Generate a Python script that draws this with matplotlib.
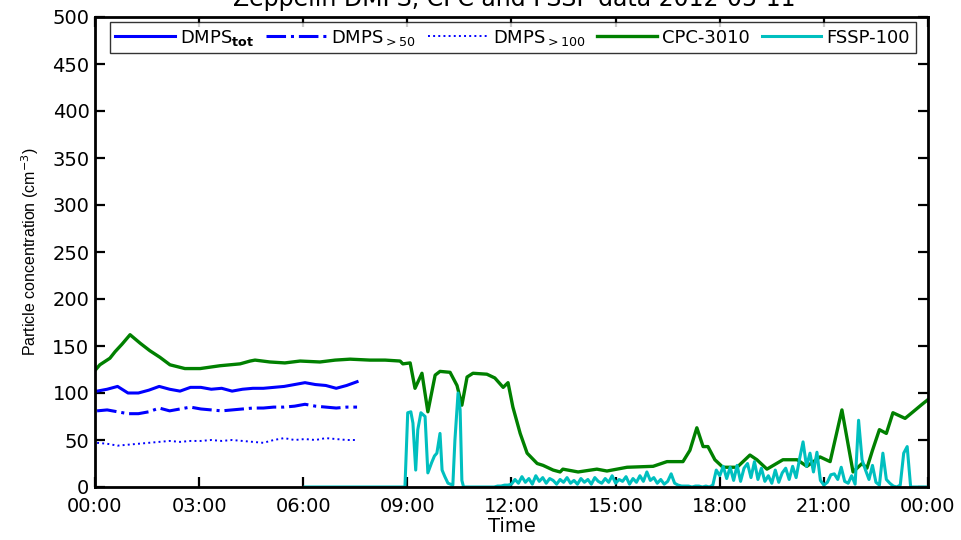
import numpy as np
import matplotlib
matplotlib.use("Agg")
import matplotlib.pyplot as plt

# ---------------- data ----------------
cpc_t = [0.00, 0.14, 0.43, 0.58, 0.78, 1.01, 1.30, 1.58, 1.87, 2.16, 2.59, 3.03, 3.60,
         4.18, 4.47, 4.61, 5.04, 5.47, 5.91, 6.48, 6.92, 7.35, 7.92, 8.36, 8.79, 8.87,
         9.08, 9.22, 9.42, 9.59, 9.80, 9.94, 10.23, 10.43, 10.57, 10.72, 10.89, 11.29,
         11.52, 11.76, 11.90, 12.04, 12.25, 12.45, 12.74, 12.91, 13.20, 13.40, 13.48,
         13.92, 14.46, 14.75, 15.33, 16.08, 16.48, 16.94, 17.14, 17.34, 17.52, 17.66,
         17.86, 18.09, 18.50, 18.87, 19.07, 19.36, 19.82, 20.23, 20.51, 20.89, 21.18,
         21.52, 21.84, 22.10, 22.24, 22.40, 22.60, 22.80, 22.99, 23.34, 23.57, 23.83, 24.00]
cpc_v = [124, 130, 137, 144, 152, 162, 153, 145, 138, 130, 126, 126, 129,
         131, 134, 135, 133, 132, 134, 133, 135, 136, 135, 135, 134, 131,
         132, 105, 121, 80, 119, 123, 122, 108, 87, 117, 121, 120,
         116, 106, 111, 85, 57, 36, 25, 23, 18, 16, 19,
         16, 19, 17, 21, 22, 27, 27, 39, 63, 43, 43,
         29, 21, 21, 34, 29, 19, 29, 29, 22, 32, 27,
         82, 16, 25, 20, 39, 61, 57, 79, 73, 80, 88, 93]

dmps_t = [0.06, 0.35, 0.65, 0.95, 1.25, 1.55, 1.85, 2.15, 2.45, 2.75, 3.05, 3.35, 3.65,
          3.95, 4.25, 4.55, 4.85, 5.15, 5.45, 5.75, 6.05, 6.35, 6.65, 6.95, 7.25, 7.55]
dmps_tot = [102, 104, 107, 100, 100, 103, 107, 104, 102, 106, 106, 104, 105,
            102, 104, 105, 105, 106, 107, 109, 111, 109, 108, 105, 108, 112]
dmps_50 = [81, 82, 80, 78, 78, 80, 84, 81, 83, 85, 83, 82, 81,
           82, 83, 84, 84, 85, 85, 86, 88, 86, 85, 84, 85, 85]
dmps_100 = [47, 46, 44, 45, 46, 47, 48, 49, 48, 49, 49, 50, 49,
            50, 49, 48, 47, 50, 52, 50, 51, 50, 52, 51, 50, 50]

fssp_spike_t = [6.05, 8.90, 8.93, 9.01, 9.10, 9.16, 9.24, 9.30, 9.39, 9.51, 9.59, 9.70,
                9.78, 9.85, 9.94, 10.00, 10.08, 10.17, 10.31, 10.37, 10.46, 10.52, 10.57, 10.62]
fssp_spike_v = [0, 0, 0, 79, 80, 68, 18, 61, 79, 75, 15, 26,
                33, 36, 57, 18, 11, 4, 2, 50, 100, 82, 7, 0]
fssp_noise_t = np.round(np.arange(10.7, 24.0 + 1e-9, 0.1), 2)
fssp_noise_v = [0, 0, 0, 0, 0, 0, 0, 0, 0, 1, 1, 2, 2,
                3, 8, 4, 11, 5, 9, 3, 12, 6, 10,
                4, 9, 7, 3, 8, 5, 10, 4, 7, 3,
                9, 5, 8, 3, 10, 6, 4, 9, 5, 12,
                4, 8, 6, 11, 3, 9, 5, 12, 6, 16,
                7, 10, 4, 8, 3, 6, 14, 4, 2, 1,
                1, 1, 0, 1, 1, 0, 1, 0,
                2, 18, 12, 22, 9, 21, 7, 23, 6, 20, 25, 10, 27, 8, 20, 6, 12, 4, 18, 5,
                15, 20, 8, 22, 10, 30,
                48, 22, 36, 16, 37, 7, 2, 5, 13, 14, 8, 21, 6, 4, 12, 3,
                71, 29, 18, 8, 23, 5, 2, 36, 8, 4, 1, 0, 2, 36, 43, 0, 0, 0, 0, 0, 0]
fssp_t = list(fssp_spike_t) + list(fssp_noise_t)
fssp_v = list(fssp_spike_v) + list(fssp_noise_v)

xticks = [0, 3, 6, 9, 12, 15, 18, 21, 24]
xticklabels = ["00:00", "03:00", "06:00", "09:00", "12:00", "15:00", "18:00", "21:00", "00:00"]
yticks = list(range(0, 501, 50))

# ---------------- figure ----------------
plt.rcParams['font.family'] = ['DejaVu Sans']
fig = plt.figure(figsize=(9.61, 5.40), dpi=100)
ax = fig.add_axes([95 / 961, 53 / 540, 833 / 961, 470 / 540])

blue = (0, 0, 1)
green = (0, 0.5, 0)
cyan = (0, 0.75, 0.75)

ax.plot(dmps_t, dmps_tot, color=blue, lw=2.2, label=r'DMPS$_{\mathbf{tot}}$')
ax.plot(dmps_t, dmps_50, color=blue, lw=2.2, ls='-.', label=r'DMPS$_{>50}$')
ax.plot(dmps_t, dmps_100, color=blue, lw=1.4, ls=':', label=r'DMPS$_{>100}$')
ax.plot(cpc_t, cpc_v, color=green, lw=2.4, label='CPC-3010')
ax.plot(fssp_t, fssp_v, color=cyan, lw=2.2, label='FSSP-100')

ax.set_xlim(0, 24)
ax.set_ylim(0, 500)
ax.set_xticks(xticks)
ax.set_xticklabels(xticklabels)
ax.set_yticks(yticks)
ax.tick_params(direction='in', length=7, width=1.6, labelsize=14,
               top=True, right=True)
ax.tick_params(axis='x', pad=7)
ax.tick_params(axis='y', pad=4)
for s in ax.spines.values():
    s.set_linewidth(2.0)

ax.set_xlabel('Time', fontsize=14, labelpad=1)
ax.set_ylabel(r'Particle concentration (cm$^{-3}$)', fontsize=11.5,
              family=['Liberation Sans', 'DejaVu Sans'], labelpad=8)

leg = ax.legend(ncol=5, loc='lower left', bbox_to_anchor=(0.018, 0.923, 0.967, 0.066),
                mode='expand', borderaxespad=0, fontsize=13, handlelength=3.3,
                handletextpad=0.3, columnspacing=0.6, fancybox=False, frameon=True,
                borderpad=0.3)
leg.get_frame().set_edgecolor('black')
leg.get_frame().set_linewidth(1.0)

fig.text(0.535, 1 - 6 / 540, 'Zeppelin DMPS, CPC and FSSP data 2012-05-11',
         ha='center', va='baseline', fontsize=17)

fig.savefig('out.png', dpi=100)
